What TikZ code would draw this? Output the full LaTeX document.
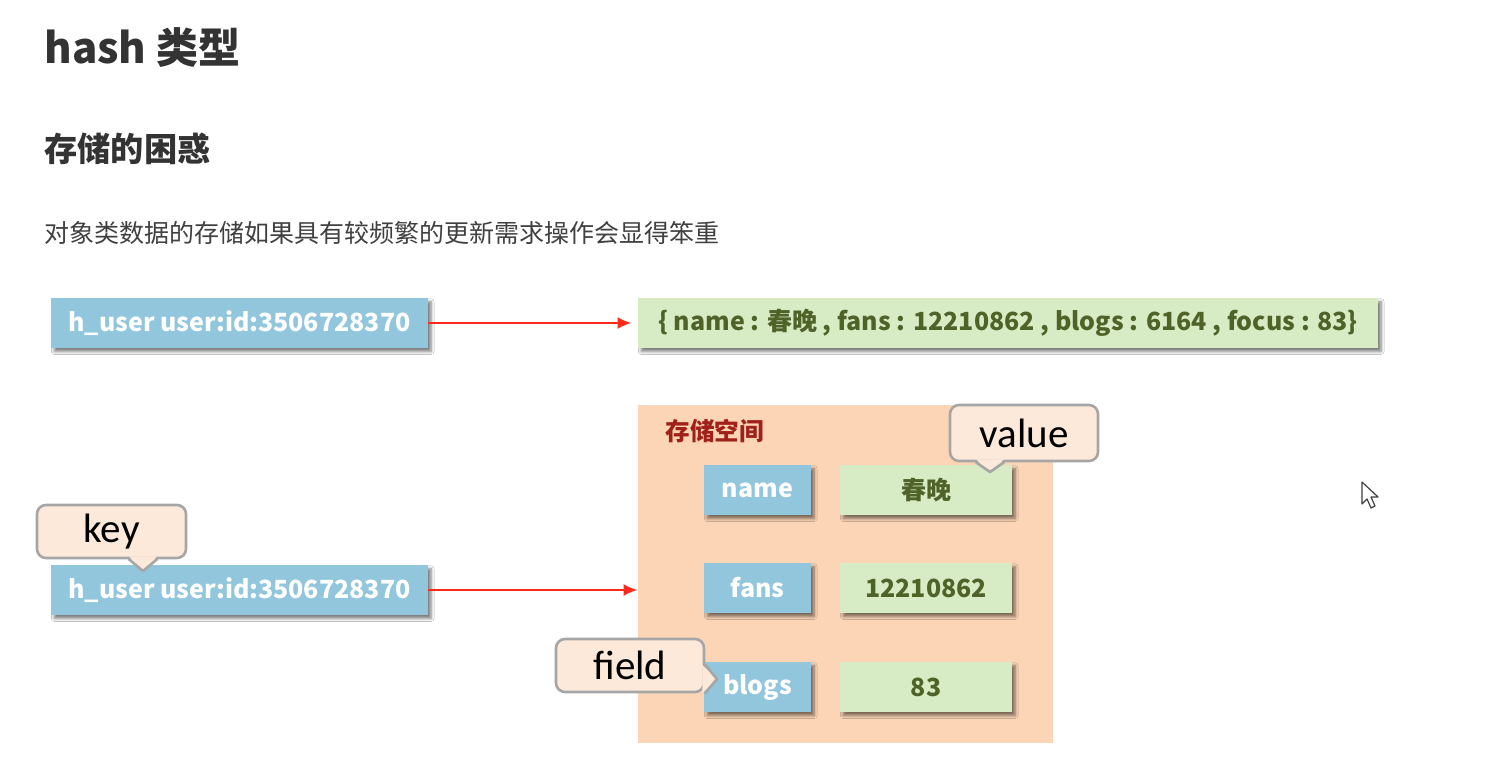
\documentclass[tikz,border=0pt]{standalone}
\usepackage{fontspec}
\setmainfont{Noto Sans CJK SC}
\newfontfamily\calfont{Carlito}
\usetikzlibrary{shadows.blur,arrows.meta,calc}
\definecolor{kblue}{HTML}{91C6DD}
\definecolor{vgreen}{HTML}{D7EBC5}
\definecolor{vtext}{HTML}{4F6228}
\definecolor{store}{HTML}{FBD5B5}
\definecolor{cfill}{HTML}{FDE9D9}
\definecolor{cline}{HTML}{A6A6A6}
\definecolor{darkred}{HTML}{A0201A}
\definecolor{arrowred}{HTML}{FF2A1A}
\definecolor{titlegray}{HTML}{333333}
\tikzset{
  boxshadow/.style={blur shadow={shadow xshift=1.6pt,shadow yshift=-1.8pt,shadow blur steps=6,shadow blur radius=1.4pt,shadow opacity=50}},
  keybox/.style={fill=kblue,boxshadow,minimum height=25pt,inner sep=0pt,text=white,font=\bfseries\fontsize{12.5}{14}\selectfont},
  valbox/.style={fill=vgreen,boxshadow,minimum height=25pt,inner sep=0pt,text=vtext,font=\bfseries\fontsize{12.5}{14}\selectfont},
  tipbox/.style={rectangle,draw=cline,fill=cfill,line width=1.3pt,rounded corners=4.5pt,inner sep=0pt,font=\calfont\fontsize{20.5}{22}\selectfont},
  tipfill/.style={fill=cfill},
  tipside/.style={draw=cline,line width=1.3pt,line join=round,line cap=round},
  redarrow/.style={draw=arrowred,line width=1.3pt,-{Latex[length=7pt,width=6pt]}}
}
\begin{document}
\begin{tikzpicture}[x=0.5pt,y=-0.5pt]
\useasboundingbox (0,0) rectangle (1491,759);
\fill[white] (0,0) rectangle (1491,759);
% headings
\node[anchor=west,inner sep=0pt,text=titlegray,font=\bfseries\fontsize{21}{24}\selectfont] (title) at (44,48) {hash 类型};
\node[anchor=west,inner sep=0pt,text=titlegray,font=\bfseries\fontsize{16.6}{19}\selectfont] (sub) at (44,149) {存储的困惑};
\node[anchor=west,inner sep=0pt,text=black!75,font=\fontsize{12.5}{15}\selectfont] (para) at (44,233) {对象类数据的存储如果具有较频繁的更新需求操作会显得笨重};
% top row
\node[keybox,minimum width=188.5pt] (k1) at (239.5,323) {h\_user user:id:3506728370};
\node[valbox,minimum width=370pt] (v1) at (1008,323) {\{ name : 春晚 , fans : 12210862 , blogs : 6164 , focus : 83\}};
\draw[redarrow] (k1.east) -- ([xshift=-3pt]v1.west);
% storage area
\node[fill=store,minimum width=207.5pt,minimum height=169pt,inner sep=0pt] (st) at (845.5,574) {};
\node[anchor=west,inner sep=0pt,text=darkred,font=\bfseries\fontsize{12.3}{14}\selectfont] (stl) at (665,431) {存储空间};
\node[keybox,minimum width=53.5pt] (f1) at (757.5,490) {name};
\node[keybox,minimum width=53.5pt] (f2) at (757.5,588) {fans};
\node[keybox,minimum width=53.5pt] (f3) at (757.5,687) {blogs};
\node[valbox,minimum width=86pt] (w1) at (926,490) {春晚};
\node[valbox,minimum width=86pt] (w2) at (926,588) {12210862};
\node[valbox,minimum width=86pt] (w3) at (926,687) {83};
% bottom key
\node[keybox,minimum width=188.5pt] (k2) at (239.5,590) {h\_user user:id:3506728370};
\draw[redarrow] (k2.east) -- (st.west |- k2.east);
% callouts
\coordinate (pkey) at (143,571);
\coordinate (pval) at (990,472);
\coordinate (pfield) at (717,679);
\node[tipbox,minimum width=74.5pt,minimum height=26.5pt] (ckey) at (111.5,531.5) {key};
\node[tipbox,minimum width=74pt,minimum height=28pt] (cval) at (1024,433) {value};
\node[tipbox,minimum width=74pt,minimum height=26.5pt] (cfield) at (630,665.5) {field};
% pointers
\fill[tipfill] ($(ckey.south -| pkey)+(-7pt,1.5pt)$) -- (pkey) -- ($(ckey.south -| pkey)+(7pt,1.5pt)$) -- cycle;
\draw[tipside] ($(ckey.south -| pkey)+(-7pt,0pt)$) -- (pkey) -- ($(ckey.south -| pkey)+(7pt,0pt)$);
\fill[tipfill] ($(cval.south -| pval)+(-7pt,1.5pt)$) -- (pval) -- ($(cval.south -| pval)+(7pt,1.5pt)$) -- cycle;
\draw[tipside] ($(cval.south -| pval)+(-7pt,0pt)$) -- (pval) -- ($(cval.south -| pval)+(7pt,0pt)$);
\fill[tipfill] ($(cfield.east |- pfield)+(-1.5pt,7pt)$) -- (pfield) -- ($(cfield.east |- pfield)+(-1.5pt,-7pt)$) -- cycle;
\draw[tipside] ($(cfield.east |- pfield)+(0pt,7pt)$) -- (pfield) -- ($(cfield.east |- pfield)+(0pt,-7pt)$);
% mouse cursor
\draw[fill=white,draw=black!75,line width=0.6pt,line join=round] (1362,482) -- ++(0,22) -- ++(5,-5) -- ++(4,9) -- ++(4,-2) -- ++(-4,-9) -- ++(7,0) -- cycle;
\end{tikzpicture}
\end{document}
